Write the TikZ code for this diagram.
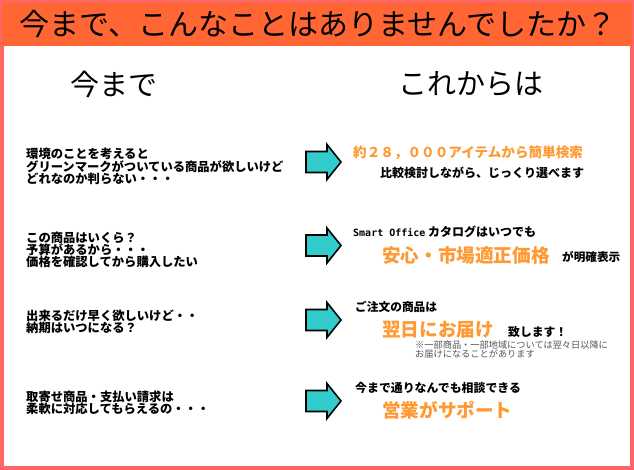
\documentclass[tikz,border=0pt]{standalone}
\usepackage{fontspec}
\setmainfont{Noto Sans CJK JP}
\newfontfamily\smartmono{DejaVu Sans Mono}
\newcommand\jpsize[1]{\fontsize{#1}{#1}\selectfont}
\definecolor{framepink}{HTML}{FF6666}
\definecolor{headorange}{HTML}{FF6633}
\definecolor{textorange}{HTML}{FF9933}
\definecolor{arrowcyan}{HTML}{33CCCC}
\definecolor{notegray}{HTML}{555555}
\tikzset{
  fat arrow/.pic={
    \draw [fill=arrowcyan, line width=1.6pt, line join=miter]
    (0,-10.5) -- (21,-10.5) -- (21,-17.5) -- (35,0) -- (21,17.5) -- (21,10.5) -- (0,10.5) -- cycle;
  },
  heading/.style={inner sep=0pt, font=\jpsize{29}},
  left text/.style={anchor=west, inner sep=0pt, align=left, font=\bfseries\fontsize{12.3}{12}\selectfont},
  plain text/.style={anchor=west, inner sep=0pt, font=\bfseries\jpsize{12}},
  big orange/.style={anchor=west, inner sep=0pt, text=textorange, font=\bfseries\jpsize{18.6}},
  note text/.style={anchor=west, inner sep=0pt, align=left, text=notegray, font=\jpsize{9.2}},
}

\begin{document}
\begin{tikzpicture}[x=1pt, y=-1pt]
  \useasboundingbox (0,0) rectangle (634,470);
  \fill [framepink] (0,0) rectangle (634,470);
  \fill [white] (4,46) rectangle (630,466);
  \fill [headorange] (2,3) rectangle (632,46);

  \node [heading, font=\jpsize{30}] (title) at (318,24) {今まで、こんなことはありませんでしたか？};
  \node [heading] (before) at (114,84) {今まで};
  \node [heading] (after) at (471,84) {これからは};

  \node [left text] (q1) at (26,166) {環境のことを考えると\\グリーンマークがついている商品が欲しいけど\\どれなのか判らない・・・};
  \node [left text] (q2) at (26,250) {この商品はいくら？\\予算があるから・・・\\価格を確認してから購入したい};
  \node [left text] (q3) at (26,322) {出来るだけ早く欲しいけど・・\\納期はいつになる？};
  \node [left text] (q4) at (26,403) {取寄せ商品・支払い請求は\\柔軟に対応してもらえるの・・・};

  \pic at (306,162) {fat arrow};
  \pic at (306,245.5) {fat arrow};
  \pic at (306,320) {fat arrow};
  \pic at (306,401) {fat arrow};

  \node [plain text, text=textorange, font=\bfseries\jpsize{13.6}] (a1) at (353,153) {約２８，０００アイテムから簡単検索};
  \node [plain text] (a1b) at (380,173) {比較検討しながら、じっくり選べます};

  \node [plain text] (a2) at (353,232) {{\smartmono\jpsize{10}Smart Office} カタログはいつでも};
  \node [big orange] (a2b) at (382,255) {安心・市場適正価格};
  \node [plain text, font=\bfseries\jpsize{11.6}] (a2c) at (562,257) {が明確表示};

  \node [plain text, font=\bfseries\jpsize{11.7}] (a3) at (355,307) {ご注文の商品は};
  \node [big orange] (a3b) at (382,330) {翌日にお届け};
  \node [plain text, font=\bfseries\jpsize{11.8}] (a3c) at (508,332) {致します！};
  \node [note text] (a3d) at (415,349.5) {※一部商品・一部地域については翌々日以降に\\お届けになることがあります};

  \node [plain text, font=\bfseries\jpsize{11.9}] (a4) at (355,388) {今まで通りなんでも相談できる};
  \node [big orange] (a4b) at (382,410) {営業がサポート};
\end{tikzpicture}
\end{document}
